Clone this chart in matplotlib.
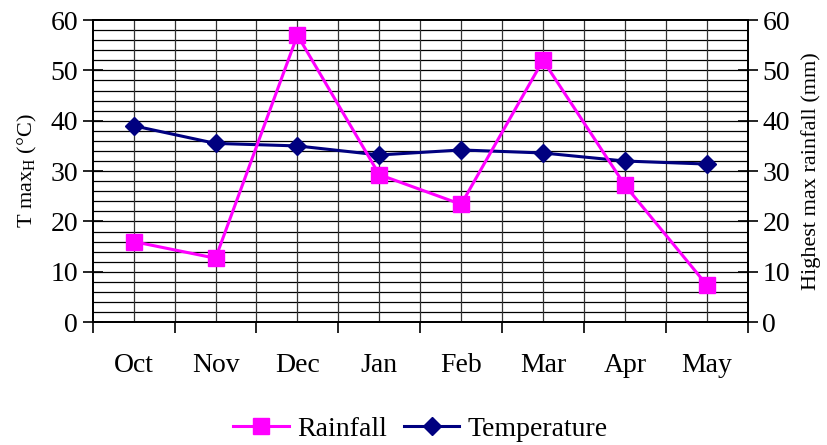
import matplotlib.pyplot as plt
import numpy as np

months = ["Oct", "Nov", "Dec", "Jan", "Feb", "Mar", "Apr", "May"]
rainfall = [16.0, 12.7, 57.0, 29.3, 23.4, 52.0, 27.2, 7.4]
temperature = [39.0, 35.5, 35.0, 33.2, 34.2, 33.6, 32.0, 31.4]

plt.rcParams["font.family"] = ["Liberation Serif", "DejaVu Serif"]
plt.rcParams["mathtext.fontset"] = "custom"
plt.rcParams["mathtext.rm"] = "Liberation Serif"
plt.rcParams["mathtext.it"] = "Liberation Serif"

fig = plt.figure(figsize=(8.28, 4.45), dpi=100)
ax = fig.add_axes([0.112, 0.276, 0.791, 0.679])
ax2 = ax.twinx()

x = np.arange(len(months))
n = len(months)

# grid
for gy in np.arange(2, 60, 2):
    ax.axhline(gy, color="black", lw=0.9, zorder=0)
for gx in np.arange(0, n - 0.25, 0.5):
    ax.axvline(gx, color="#333333", lw=0.9, zorder=0)

ax.plot(x, temperature, color="#000080", lw=2.2, marker="D", ms=9,
        label="Temperature", zorder=3)
ax2.plot(x, rainfall, color="#FF00FF", lw=2.2, marker="s", ms=11,
         label="Rainfall", zorder=3)

for a in (ax, ax2):
    a.set_xlim(-0.5, n - 0.5)
    a.set_ylim(0, 60)
    a.set_yticks(np.arange(0, 61, 10))
    for s in a.spines.values():
        s.set_linewidth(1.3)

ax.set_xticks(np.arange(-0.5, n, 1))
ax.set_xticklabels([""] * (n + 1))
ax.set_xticks(x, minor=True)
ax.set_xticklabels(months, minor=True, fontsize=20)
ax.tick_params(axis="x", which="major", direction="out", length=8, width=1.2)
ax.tick_params(axis="x", which="minor", length=0, pad=22)
ax.tick_params(axis="y", direction="inout", length=14, width=1.2, labelsize=20)
ax2.tick_params(axis="y", direction="inout", length=14, width=1.2, labelsize=20)

ax.set_ylabel("T max$_\\mathrm{H}$ (°C)", fontsize=16, labelpad=8)
ax2.set_ylabel("Highest max rainfall (mm)", fontsize=16, labelpad=8)

h1, l1 = ax2.get_legend_handles_labels()
h2, l2 = ax.get_legend_handles_labels()
fig.legend(h1 + h2, l1 + l2, loc="center", bbox_to_anchor=(0.508, 0.035),
           ncol=2, frameon=False, fontsize=20, handlelength=2.0,
           handletextpad=0.3, columnspacing=0.6)

plt.savefig("out.png", dpi=100)
plt.close()
